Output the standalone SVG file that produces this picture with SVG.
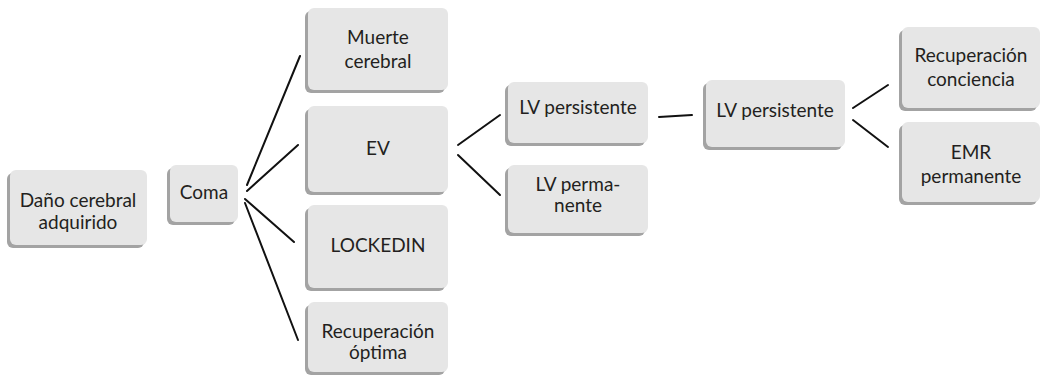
<svg xmlns="http://www.w3.org/2000/svg" width="1042" height="383" viewBox="0 0 1042 383">
<style>
.sh{fill:#a3a3a3}
.bx{fill:#e6e6e6}
.t{font-family:"Lato","Liberation Sans",sans-serif;font-size:19px;fill:#231f20;text-anchor:middle}
.c line{stroke:#111;stroke-width:2;stroke-linecap:round}
</style>
<rect width="1042" height="383" fill="#fff"/>
<g class="c" id="connectors">
<line x1="247" y1="185" x2="300" y2="56"/>
<line x1="247" y1="191" x2="298" y2="145"/>
<line x1="245" y1="199" x2="294" y2="242"/>
<line x1="245" y1="203" x2="298" y2="340"/>
<line x1="458" y1="145" x2="500" y2="115"/>
<line x1="458" y1="155" x2="500" y2="195"/>
<line x1="659" y1="117" x2="692" y2="115"/>
<line x1="853" y1="108" x2="888" y2="85"/>
<line x1="853" y1="120" x2="888" y2="147"/>
</g>
<g id="n1"><rect class="sh" x="7" y="173" width="137" height="75" rx="6"/><rect class="bx" x="10" y="170" width="137" height="75" rx="6"/><text class="t" x="78" y="207">Daño cerebral</text><text class="t" x="78" y="229">adquirido</text></g>
<g id="n2"><rect class="sh" x="167" y="168" width="68" height="57" rx="6"/><rect class="bx" x="170" y="165" width="68" height="57" rx="6"/><text class="t" x="204" y="199">Coma</text></g>
<g id="n3"><rect class="sh" x="305" y="11" width="140" height="82" rx="6"/><rect class="bx" x="308" y="8" width="140" height="82" rx="6"/><text class="t" x="378" y="44">Muerte</text><text class="t" x="378" y="68">cerebral</text></g>
<g id="n4"><rect class="sh" x="305" y="109" width="140" height="86" rx="6"/><rect class="bx" x="308" y="106" width="140" height="86" rx="6"/><text class="t" x="378" y="155">EV</text></g>
<g id="n5"><rect class="sh" x="305" y="208" width="140" height="83" rx="6"/><rect class="bx" x="308" y="205" width="140" height="83" rx="6"/><text class="t" x="378" y="252">LOCKEDIN</text></g>
<g id="n6"><rect class="sh" x="305" y="305" width="140" height="70" rx="6"/><rect class="bx" x="308" y="302" width="140" height="70" rx="6"/><text class="t" x="378" y="338">Recuperación</text><text class="t" x="378" y="359">óptima</text></g>
<g id="n7"><rect class="sh" x="505" y="85" width="140" height="61" rx="6"/><rect class="bx" x="508" y="82" width="140" height="61" rx="6"/><text class="t" x="578" y="114">LV persistente</text></g>
<g id="n8"><rect class="sh" x="505" y="168" width="140" height="68" rx="6"/><rect class="bx" x="508" y="165" width="140" height="68" rx="6"/><text class="t" x="578" y="191">LV perma-</text><text class="t" x="578" y="212">nente</text></g>
<g id="n9"><rect class="sh" x="703" y="83" width="139" height="67" rx="6"/><rect class="bx" x="706" y="80" width="139" height="67" rx="6"/><text class="t" x="775" y="117">LV persistente</text></g>
<g id="n10"><rect class="sh" x="899" y="30" width="138" height="81" rx="6"/><rect class="bx" x="902" y="27" width="138" height="81" rx="6"/><text class="t" x="971" y="62">Recuperación</text><text class="t" x="971" y="86">conciencia</text></g>
<g id="n11"><rect class="sh" x="899" y="125" width="138" height="80" rx="6"/><rect class="bx" x="902" y="122" width="138" height="80" rx="6"/><text class="t" x="971" y="159">EMR</text><text class="t" x="971" y="183">permanente</text></g>
</svg>
